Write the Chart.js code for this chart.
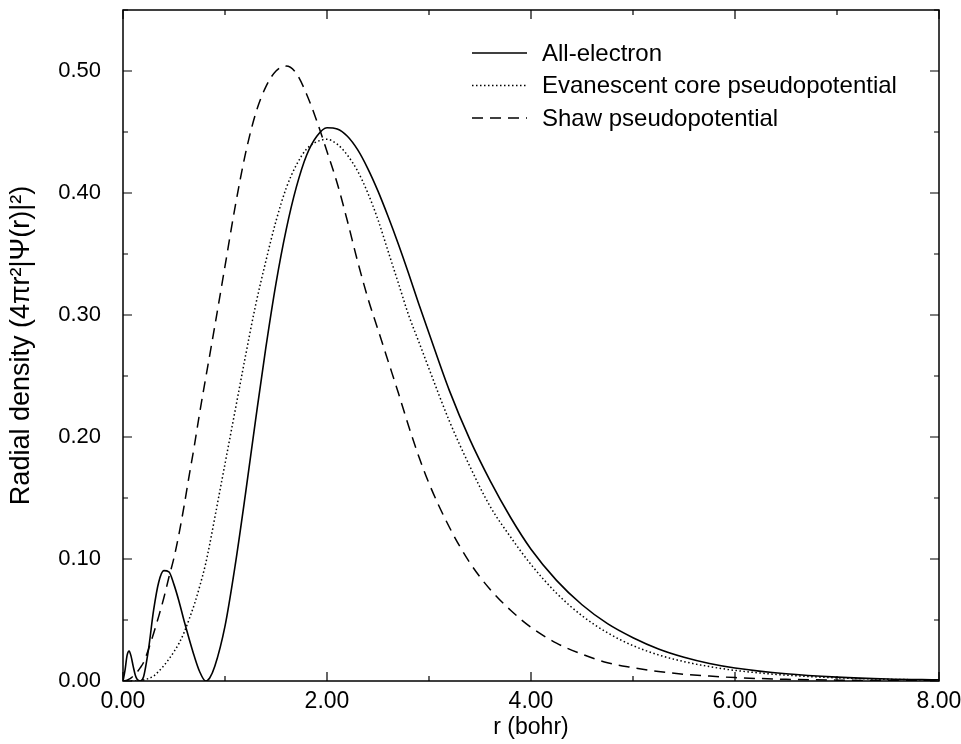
<!DOCTYPE html>
<html>
<head>
<meta charset="utf-8">
<script src="https://cdn.jsdelivr.net/npm/chart.js@4.4.0/dist/chart.umd.min.js"></script>
<style>
  body { margin: 0; background: #fff; }
  canvas { display: block; }
</style>
</head>
<body>
<canvas id="densityChart" width="961" height="744"></canvas>
<script>
'use strict';

// radius grid (bohr)
var radius = [0, 0.02, 0.04, 0.06, 0.08, 0.10, 0.12, 0.14, 0.17, 0.20,
  0.25, 0.30, 0.35, 0.40, 0.45, 0.50, 0.55, 0.60, 0.65, 0.70, 0.75,
  0.81, 0.85, 0.90,
  1.0, 1.1, 1.2, 1.3, 1.4, 1.5, 1.6, 1.7, 1.8, 1.9, 2.0,
  2.1, 2.2, 2.3, 2.4, 2.5, 2.6, 2.7, 2.8, 2.9, 3.0,
  3.2, 3.4, 3.6, 3.8, 4.0,
  4.25, 4.5, 4.75, 5.0, 5.25, 5.5, 5.75, 6.0,
  6.5, 7.0, 7.5, 8.0];

var allElectron = [0, 0.009, 0.021, 0.0245, 0.020, 0.012, 0.005, 0.0012, 0, 0.003,
  0.026, 0.058, 0.081, 0.0905, 0.0895, 0.079, 0.065, 0.049, 0.034, 0.020, 0.008,
  0, 0.0025, 0.012,
  0.045, 0.095, 0.153, 0.214, 0.273, 0.326, 0.370, 0.405, 0.431, 0.4465, 0.4535,
  0.4525, 0.4465, 0.4355, 0.4200, 0.4015, 0.3805, 0.358, 0.334, 0.309, 0.285,
  0.238, 0.198, 0.164, 0.134, 0.108,
  0.0825, 0.0625, 0.047, 0.0355, 0.0263, 0.0195, 0.0144, 0.0107,
  0.0059, 0.0032, 0.0017, 0.0010];

var evanescent = [0, 0, 0, 0, 0, 0, 0, 0, 0.0002, 0.0008,
  0.002, 0.004, 0.008, 0.0125, 0.018, 0.024, 0.031, 0.040, 0.051, 0.063, 0.077,
  0.096, 0.112, 0.134,
  0.178, 0.222, 0.266, 0.308, 0.344, 0.377, 0.404, 0.423, 0.436, 0.442, 0.444,
  0.440, 0.431, 0.418, 0.400, 0.378, 0.352, 0.326, 0.300, 0.278, 0.256,
  0.213, 0.176, 0.143, 0.118, 0.0955,
  0.0720, 0.0535, 0.0395, 0.0290, 0.0214, 0.0159, 0.0118, 0.0087,
  0.0048, 0.0026, 0.0014, 0.0008];

var shaw = [0, 0.0002, 0.0007, 0.0015, 0.0026, 0.004, 0.0056, 0.0075, 0.011, 0.015,
  0.026, 0.039, 0.053, 0.068, 0.085, 0.101, 0.121, 0.144, 0.169, 0.193, 0.219,
  0.248, 0.267, 0.291,
  0.340, 0.389, 0.432, 0.465, 0.487, 0.500, 0.504, 0.498, 0.481, 0.459, 0.434,
  0.408, 0.377, 0.344, 0.314, 0.288, 0.262, 0.236, 0.209, 0.184, 0.162,
  0.126, 0.097, 0.075, 0.058, 0.044,
  0.031, 0.022, 0.015, 0.011, 0.0078, 0.0055, 0.004, 0.0028,
  0.0014, 0.0007, 0.0003, 0.0001];

var seriesLabels = ['All-electron', 'Evanescent core pseudopotential', 'Shaw pseudopotential'];
var xTicks = [0, 2, 4, 6, 8];
var yTicks = [0, 0.1, 0.2, 0.3, 0.4, 0.5];

var FONT = "'Liberation Sans', Arial, sans-serif";

var toPoints = function(ys) {
  return radius.map(function(r, i) { return {x: r, y: ys[i]}; });
};

var lineStyle = function(label, ys, dash, width) {
  return {
    label: label,
    data: toPoints(ys),
    borderColor: '#000',
    borderWidth: width,
    borderDash: dash,
    pointRadius: 0,
    fill: false,
    cubicInterpolationMode: 'monotone',
    tension: 0.4
  };
};

// frame, inward ticks on all four sides, and the in-plot legend
var framePlugin = {
  id: 'frame',
  afterDraw: function(chart) {
    var ctx = chart.ctx;
    var a = chart.chartArea;
    var xs = chart.scales.x, ys = chart.scales.y;
    var v, p, len;
    ctx.save();
    ctx.strokeStyle = '#000';
    ctx.lineWidth = 1.5;
    ctx.setLineDash([]);
    ctx.strokeRect(a.left, a.top, a.right - a.left, a.bottom - a.top);

    ctx.lineWidth = 1.2;
    ctx.beginPath();
    for (v = 0; v <= 8; v += 1) {
      p = xs.getPixelForValue(v);
      len = (v % 2 === 0) ? 9 : 5;
      ctx.moveTo(p, a.bottom); ctx.lineTo(p, a.bottom - len);
      ctx.moveTo(p, a.top); ctx.lineTo(p, a.top + len);
    }
    for (v = 0; v <= 11; v += 1) {
      p = ys.getPixelForValue(v * 0.05);
      len = (v % 2 === 0) ? 9 : 5;
      ctx.moveTo(a.left, p); ctx.lineTo(a.left + len, p);
      ctx.moveTo(a.right, p); ctx.lineTo(a.right - len, p);
    }
    ctx.stroke();

    // legend
    ctx.font = '24px ' + FONT;
    ctx.fillStyle = '#000';
    ctx.textBaseline = 'middle';
    chart.data.datasets.forEach(function(ds, i) {
      var y = 53 + i * 32.5;
      ctx.lineWidth = ds.borderWidth;
      ctx.setLineDash(ds.borderDash || []);
      ctx.beginPath();
      ctx.moveTo(472, y);
      ctx.lineTo(527, y);
      ctx.stroke();
      ctx.fillText(ds.label, 542, y + 1);
    });
    ctx.restore();
  }
};

var ctx = document.getElementById('densityChart').getContext('2d');
var densityChart = new Chart(ctx, {
  type: 'line',
  data: {
    datasets: [
      lineStyle(seriesLabels[0], allElectron, [], 1.6),
      lineStyle(seriesLabels[1], evanescent, [1.5, 2.5], 1.5),
      lineStyle(seriesLabels[2], shaw, [11, 7], 1.5)
    ]
  },
  options: {
    responsive: false,
    animation: false,
    layout: { padding: { left: 0, right: 22, top: 10, bottom: 0 } },
    plugins: {
      legend: { display: false },
      tooltip: { enabled: false }
    },
    scales: {
      x: {
        type: 'linear',
        min: 0,
        max: 8,
        afterFit: function(scale) {
          scale.height = 63;
          scale.paddingLeft = 0;
          scale.paddingRight = 0;
        },
        afterBuildTicks: function(scale) {
          scale.ticks = xTicks.map(function(v) { return {value: v}; });
        },
        grid: { display: false, drawTicks: false },
        border: { display: false },
        ticks: {
          padding: 7,
          color: '#000',
          font: { family: FONT, size: 23 },
          callback: function(v) { return Number(v).toFixed(2); }
        },
        title: {
          display: true,
          text: 'r (bohr)',
          color: '#000',
          font: { family: FONT, size: 23 },
          padding: { top: 0, bottom: 3 }
        }
      },
      y: {
        min: 0,
        max: 0.55,
        afterFit: function(scale) {
          scale.width = 123;
          scale.paddingTop = 0;
          scale.paddingBottom = 0;
        },
        afterBuildTicks: function(scale) {
          scale.ticks = yTicks.map(function(v) { return {value: v}; });
        },
        grid: { display: false, drawTicks: false },
        border: { display: false },
        ticks: {
          padding: 22,
          color: '#000',
          font: { family: FONT, size: 22 },
          callback: function(v) { return Number(v).toFixed(2); }
        },
        title: {
          display: true,
          text: 'Radial density (4\u03c0r\u00b2|\u03a8(r)|\u00b2)',
          color: '#000',
          font: { family: FONT, size: 27 },
          padding: { top: 5, bottom: 0 }
        }
      }
    }
  },
  plugins: [framePlugin]
});
</script>
</body>
</html>
